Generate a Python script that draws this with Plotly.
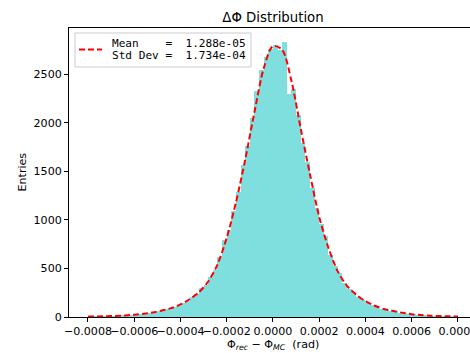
import numpy as np
import plotly.graph_objects as go

# ---- data ----
bin_start = -0.0008
bin_width = 0.00002
counts = [3, 6, 5, 8, 9, 12, 11, 16, 19, 21,
          28, 30, 39, 42, 55, 62, 78, 83, 104, 116,
          145, 165, 206, 232, 300, 325, 410, 480, 620, 790,
          900, 1090, 1290, 1560, 1760, 2050, 2330, 2540, 2680, 2760,
          2800, 2750, 2832, 2300, 2350, 2080, 1790, 1600, 1330, 1120,
          960, 830, 640, 520, 450, 350, 290, 250, 205, 180,
          146, 128, 118, 86, 80, 64, 58, 45, 40, 31,
          28, 21, 19, 15, 14, 10, 9, 7, 6, 4]

fit_x_start = -0.0008
fit_x_step = 0.00004
fit_y = [4, 6, 8, 11, 16, 24, 33, 47, 67, 91,
         129, 183, 255, 365, 540, 815, 1180, 1620, 2110, 2560,
         2790, 2750, 2430, 1940, 1470, 1030, 710, 470, 320, 230,
         162, 116, 82, 62, 43, 29, 20, 14, 10, 7, 5]

x_tickvals = [-0.0008, -0.0006, -0.0004, -0.0002, 0.0, 0.0002, 0.0004, 0.0006, 0.0008]
x_ticktext = ["\u22120.0008", "\u22120.0006", "\u22120.0004", "\u22120.0002",
              "0.0000", "0.0002", "0.0004", "0.0006", "0.0008"]
y_tickvals = [0, 500, 1000, 1500, 2000, 2500]

mean_txt = "1.288e-05"
std_txt = "1.734e-04"

# ---- derived positions ----
centers = bin_start + bin_width * (np.arange(len(counts)) + 0.5)
fit_x = fit_x_start + fit_x_step * np.arange(len(fit_y))

nb = "\u00a0"
legend_line1 = "Mean" + nb * 4 + "=" + nb * 2 + mean_txt
legend_line2 = "Std" + nb + "Dev" + nb + "=" + nb * 2 + std_txt

W, H = 470, 353
L, R, T, B = 69, 0, 28, 36
PW, PH = W - L - R, H - T - B


def px(xp):
    return (xp - L) / PW


def py(yp):
    return (H - B - yp) / PH


fig = go.Figure()
fig.add_trace(go.Bar(x=centers, y=counts, width=bin_width,
                     marker=dict(color="#7fdfdf", line=dict(width=0)),
                     showlegend=False, hoverinfo="skip"))
fig.add_trace(go.Scatter(x=fit_x, y=fit_y, mode="lines",
                         line=dict(color="red", width=2, dash="6px,3px", shape="spline", smoothing=0.8),
                         showlegend=False))

lab_font = dict(size=11.1, family="DejaVu Sans", color="black")
mono_font = dict(size=11.1, family="DejaVu Sans Mono", color="black")

fig.update_layout(
    width=W, height=H,
    margin=dict(l=L, r=R, t=T, b=B, pad=0),
    plot_bgcolor="white", paper_bgcolor="white",
    bargap=0,
    showlegend=False,
    font=lab_font,
    title=dict(text="\u0394\u03a6 Distribution", x=px(273), xref="paper",
               xanchor="center", y=1 - 17 / H, yanchor="middle",
               font=dict(size=13.3, family="DejaVu Sans", color="black")),
    xaxis=dict(range=[-0.000882, 0.000852], tickvals=x_tickvals, ticktext=x_ticktext,
               tickangle=0, automargin=False, ticklabeloverflow="allow",
               ticks="outside", ticklen=4, tickwidth=1, tickcolor="black",
               showline=True, linecolor="black", linewidth=1, mirror=True,
               showgrid=False, zeroline=False, tickfont=lab_font),
    yaxis=dict(range=[0, 2975], tickvals=y_tickvals, automargin=False,
               ticks="outside", ticklen=4, tickwidth=1, tickcolor="black",
               showline=True, linecolor="black", linewidth=1, mirror=False,
               showgrid=False, zeroline=False, tickfont=lab_font),
    shapes=[
        dict(type="rect", xref="paper", yref="paper",
             x0=px(75), x1=px(251), y0=py(67), y1=py(33),
             line=dict(color="#cccccc", width=1), fillcolor="rgba(255,255,255,0.8)", layer="above"),
        dict(type="line", xref="paper", yref="paper",
             x0=px(79), x1=px(102), y0=py(49.5), y1=py(49.5),
             line=dict(color="red", width=2, dash="6px,3px"), layer="above"),
    ],
    annotations=[
        dict(text="\u03a6<sub><i>rec</i></sub> \u2212 \u03a6<sub><i>MC</i></sub>" + nb * 2 + "(rad)",
             xref="paper", yref="paper", x=px(273), y=0,
             xanchor="center", yanchor="middle", yshift=-28, showarrow=False,
             font=lab_font),
        dict(text="Entries", xref="paper", yref="paper", x=0, y=0.5,
             xanchor="center", yanchor="middle", xshift=-(L - 22), textangle=-90,
             showarrow=False, font=lab_font),
        dict(text=legend_line1, xref="paper", yref="paper", x=px(110), y=py(43),
             xanchor="left", yanchor="middle", showarrow=False, font=mono_font),
        dict(text=legend_line2, xref="paper", yref="paper", x=px(110), y=py(55.5),
             xanchor="left", yanchor="middle", showarrow=False, font=mono_font),
    ],
)

fig.write_html("out.html", config={"displayModeBar": False, "staticPlot": True},
               post_script="document.body.style.margin='0px';document.body.style.overflow='hidden';")
